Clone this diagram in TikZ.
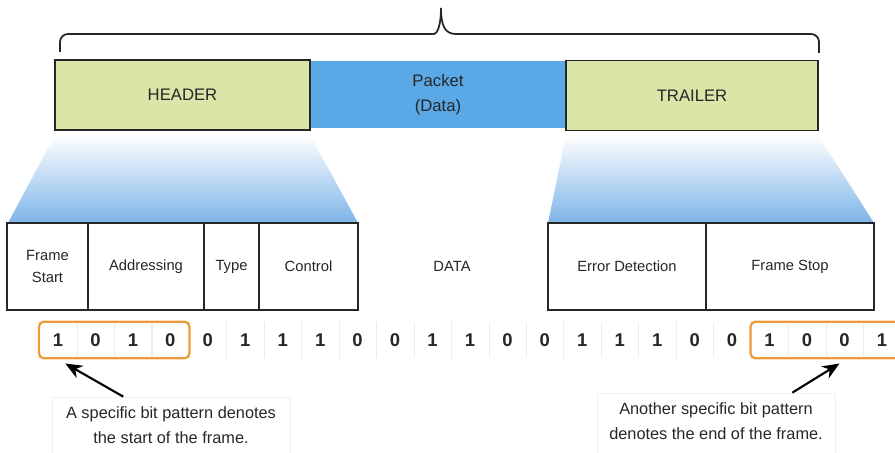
\documentclass[tikz,border=0pt]{standalone}
\usepackage{fontspec}
\setmainfont{Liberation Sans}
\usetikzlibrary{positioning,fit,calc,arrows.meta}

\definecolor{hdrgreen}{HTML}{DCE5A8}
\definecolor{pktblue}{HTML}{5AA9E6}
\definecolor{fadeblue}{HTML}{7DB4E8}
\definecolor{markorange}{HTML}{EE9B3C}
\definecolor{inkgrey}{HTML}{262626}

\tikzset{
  part/.style={draw=inkgrey, line width=0.6pt, fill=hdrgreen, minimum height=14mm,
    align=center, font=\fontsize{9.5}{14}\selectfont, text=inkgrey},
  field/.style={draw=inkgrey, line width=0.6pt, minimum height=17.4mm, align=center,
    outer sep=0pt, font=\fontsize{8.4}{12}\selectfont, text=inkgrey},
  bit/.style={minimum width=7.49mm, minimum height=7.2mm, inner sep=0pt,
    font=\fontsize{10.5}{12}\selectfont\bfseries, text=inkgrey},
  markbox/.style={draw=markorange, line width=1.3pt, rounded corners=1mm, inner sep=0pt},
  noteframe/.style={draw=gray!12, inner sep=0pt},
  notetext/.style={align=center, inner sep=0pt, font=\fontsize{9.3}{14}\selectfont, text=inkgrey},
  pointer/.style={-{Stealth[length=3.4mm,width=2.8mm]}, line width=1.2pt}
}

\begin{document}
\begin{tikzpicture}[x=0.2mm, y=-0.2mm]
  \useasboundingbox (0,0) rectangle (895,453);

  % Blue fade below header and trailer
  \shade[top color=white, middle color=fadeblue!25, bottom color=fadeblue]
    (55,135) -- (310,135) -- (358,223) -- (8,223) -- cycle;
  \shade[top color=white, middle color=fadeblue!25, bottom color=fadeblue]
    (566,135) -- (818,135) -- (874,223) -- (548,223) -- cycle;

  % Frame parts
  \node[part, draw=none, fill=pktblue, minimum width=51.2mm, minimum height=13.4mm]
    (packet) at (438,94.5) {Packet\\(Data)};
  \node[part, minimum width=51mm] (header) at (182.5,95) {HEADER};
  \node[part, minimum width=50.4mm] (trailer) at (692,95.5) {TRAILER};

  % Brace over the frame
  \draw[line width=1pt, inkgrey] (60,52) [rounded corners=1.6mm] |- (426,34)
    [sharp corners] .. controls (437,34) and (441,26) .. (441,8)
    .. controls (441,26) and (445,34) .. (456,34)
    [rounded corners=1.6mm] -| (819,53);

  % Fields
  \node[field, minimum width=16.2mm] (fstart) at (47.5,266.5) {Frame\\Start};
  \node[field, minimum width=23.2mm, right=0pt of fstart] (addr) {Addressing};
  \node[field, minimum width=11mm, right=0pt of addr] (type) {Type};
  \node[field, minimum width=19.8mm, right=0pt of type] (ctrl) {Control};
  \node[field, draw=none] (data) at (452,266.5) {DATA};
  \node[field, minimum width=31.6mm] (errdet) at (627,266.5) {Error Detection};
  \node[field, minimum width=33.6mm, right=0pt of errdet] (fstop) {Frame Stop};

  % Bits
  \foreach \b [count=\i from 0] in {1,0,1,0,0,1,1,1,0,0,1,1,0,0,1,1,1,0,0,1,0,0,1}
    \node[bit] (b\i) at (58+37.45*\i, 340) {\b};
  \foreach \i in {0,...,21}
    \draw[gray!15, line width=0.6pt] (b\i.north east) -- (b\i.south east);

  \node[markbox, fit=(b0)(b3)] (startbox) {};
  \node[markbox, fit=(b19)(b22)] (stopbox) {};

  % Notes
  \node[noteframe, fit={(52,397) (290,470)}] (startframe) {};
  \node[notetext, below=2mm of startframe.north] (startnote)
    {A specific bit pattern denotes\\the start of the frame.};
  \node[noteframe, fit={(597,393) (835,470)}] (stopframe) {};
  \node[notetext, below=2mm of stopframe.north] (stopnote)
    {Another specific bit pattern\\denotes the end of the frame.};

  \draw[pointer] ($(startframe.north west)!0.3!(startframe.north east)$)
    -- ($(startbox.south west)!0.18!(startbox.south east)+(0,4)$);
  \draw[pointer] ($(stopframe.north west)!0.82!(stopframe.north east)$)
    -- ($(stopbox.south west)!0.59!(stopbox.south east)+(0,4)$);
\end{tikzpicture}
\end{document}
